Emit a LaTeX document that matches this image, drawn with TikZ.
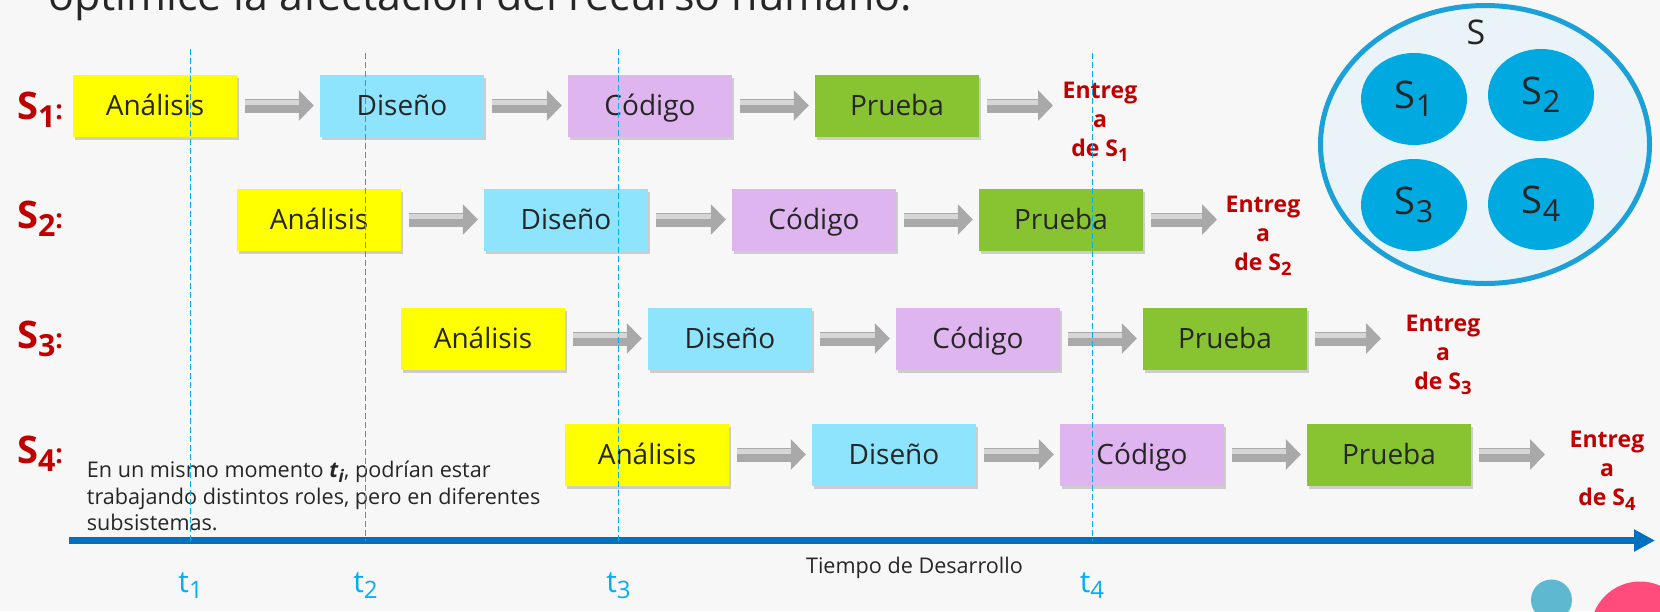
\documentclass[tikz,border=0pt]{standalone}
\usepackage{fontspec}
\setmainfont{Open Sans}
\usepackage{graphicx}
\usetikzlibrary{positioning, calc, arrows.meta, shapes.geometric, shadows}
\definecolor{Fondo}{HTML}{F7F7F7}
\definecolor{Texto}{HTML}{262626}
\definecolor{Rojo}{HTML}{C00000}
\definecolor{Amarillo}{HTML}{FFFF00}
\definecolor{Celeste}{HTML}{8EE4FC}
\definecolor{Lila}{HTML}{DFB5F0}
\definecolor{Verde}{HTML}{88C431}
\definecolor{Gris}{HTML}{A9A9A9}
\definecolor{GrisClaro}{HTML}{D6D6D6}
\definecolor{Eje}{HTML}{0070C0}
\definecolor{Guia}{HTML}{00B0F0}
\definecolor{Aro}{HTML}{1BA1D8}
\definecolor{AroFondo}{HTML}{EAF3F8}
\definecolor{Sub}{HTML}{00A9E0}
\definecolor{Bola}{HTML}{5EB8D0}
\definecolor{Rosa}{HTML}{FF4C7C}
\newcommand{\indice}[1]{\raisebox{-0.22em}{\scalebox{0.8}{#1}}}
\newcommand{\dospuntos}{\scalebox{0.7}{:}}
\tikzset{
    fase/.style={rectangle, minimum width=164pt, minimum height=62pt, inner sep=0pt, text height=27pt, text depth=8pt, text=Texto, font=\fontsize{28}{34}\selectfont, drop shadow={shadow xshift=2pt, shadow yshift=-3pt, opacity=0.35}},
    flecha/.style={-{Triangle[length=15pt, width=30pt]}, line width=14pt, draw=Gris, shorten <=8pt, shorten >=6pt,
        postaction={draw=GrisClaro, line width=5pt, -, shorten <=8pt, shorten >=21pt, transform canvas={yshift=3pt}}},
    entrega/.style={anchor=north, align=center, inner sep=0pt, text=Rojo, font=\fontsize{23}{29}\selectfont\bfseries},
    rotulo/.style={anchor=base west, inner sep=0pt, text=Rojo, font=\fontsize{38}{38}\selectfont\bfseries},
    subsistema/.style={ellipse, fill=Sub, minimum width=106pt, minimum height=92pt, text=Texto, font=\fontsize{38}{38}\selectfont},
    guia/.style={dashed, dash pattern=on 6pt off 3pt, color=Guia, line width=1pt},
    tiempo/.style={anchor=base, inner sep=0pt, text=Guia, font=\fontsize{30}{30}\selectfont},
}
\begin{document}
\begin{tikzpicture}[x=1pt, y=1pt]
    % Fondo y titulo
    \fill[Fondo] (0,0) rectangle (1660,-611);
    \useasboundingbox (0,0) rectangle (1660,-611);
    \node[anchor=base west, inner sep=0pt, text=Texto, font=\fontsize{43}{50}\selectfont] (titulo) at (48,-10) {optimice la afectación del recurso humano.};

    % Conjunto S
    \node[ellipse, draw=Aro, line width=5pt, fill=AroFondo, minimum width=329pt, minimum height=278pt] (S) at (1485,-144.5) {};
    \node[inner sep=0pt, text=Texto, font=\fontsize{34}{34}\selectfont] (nS) at (1476,-32) {S};
    \node[subsistema] (n1) at (1414,-99) {S\indice{1}};
    \node[subsistema] (n2) at (1541,-95) {S\indice{2}};
    \node[subsistema] (n3) at (1414,-205) {S\indice{3}};
    \node[subsistema] (n4) at (1541,-204) {S\indice{4}};

    % Rotulos de filas
    \node[rotulo] (l1) at (17,-119) {S\indice{1}\dospuntos};
    \node[rotulo] (l2) at (17,-228) {S\indice{2}\dospuntos};
    \node[rotulo] (l3) at (17,-348) {S\indice{3}\dospuntos};
    \node[rotulo] (l4) at (17,-463) {S\indice{4}\dospuntos};

    % Fila S1
    \node[fase, fill=Amarillo] (an1) at (155,-105.5) {Análisis};
    \node[fase, fill=Celeste] (di1) at (402,-105.5) {Diseño};
    \node[fase, fill=Lila] (co1) at (650,-105.5) {Código};
    \node[fase, fill=Verde] (pr1) at (897,-105.5) {Prueba};
    \node[entrega] (e1) at (1100,-81.5) {Entreg\\a\\de S\indice{1}};
    \coordinate (f1) at (1059,-105.5);
    \draw[flecha] (an1) -- (di1);
    \draw[flecha] (di1) -- (co1);
    \draw[flecha] (co1) -- (pr1);
    \draw[flecha] (pr1) -- (f1);

    % Fila S2
    \node[fase, fill=Amarillo] (an2) at (319,-219.5) {Análisis};
    \node[fase, fill=Celeste] (di2) at (566,-219.5) {Diseño};
    \node[fase, fill=Lila] (co2) at (814,-219.5) {Código};
    \node[fase, fill=Verde] (pr2) at (1061,-219.5) {Prueba};
    \node[entrega] (e2) at (1263,-195.5) {Entreg\\a\\de S\indice{2}};
    \coordinate (f2) at (1223,-219.5);
    \draw[flecha] (an2) -- (di2);
    \draw[flecha] (di2) -- (co2);
    \draw[flecha] (co2) -- (pr2);
    \draw[flecha] (pr2) -- (f2);

    % Fila S3
    \node[fase, fill=Amarillo] (an3) at (483,-338.5) {Análisis};
    \node[fase, fill=Celeste] (di3) at (730,-338.5) {Diseño};
    \node[fase, fill=Lila] (co3) at (978,-338.5) {Código};
    \node[fase, fill=Verde] (pr3) at (1225,-338.5) {Prueba};
    \node[entrega] (e3) at (1443,-314.5) {Entreg\\a\\de S\indice{3}};
    \coordinate (f3) at (1387,-338.5);
    \draw[flecha] (an3) -- (di3);
    \draw[flecha] (di3) -- (co3);
    \draw[flecha] (co3) -- (pr3);
    \draw[flecha] (pr3) -- (f3);

    % Fila S4
    \node[fase, fill=Amarillo] (an4) at (647,-454.5) {Análisis};
    \node[fase, fill=Celeste] (di4) at (894,-454.5) {Diseño};
    \node[fase, fill=Lila] (co4) at (1142,-454.5) {Código};
    \node[fase, fill=Verde] (pr4) at (1389,-454.5) {Prueba};
    \node[entrega] (e4) at (1607,-430.5) {Entreg\\a\\de S\indice{4}};
    \coordinate (f4) at (1551,-454.5);
    \draw[flecha] (an4) -- (di4);
    \draw[flecha] (di4) -- (co4);
    \draw[flecha] (co4) -- (pr4);
    \draw[flecha] (pr4) -- (f4);

    % Nota
    \node[anchor=north west, align=left, inner sep=0pt, text=Texto, font=\fontsize{21.6}{26.5}\selectfont] (nota) at (86.7,-461) {En un mismo momento \textbf{\textit{t}}\indice{\textbf{\textit{i}}}, podrían estar\\trabajando distintos roles, pero en diferentes\\subsistemas.};

    % Eje del tiempo
    \coordinate (ini) at (69,-540.5);
    \coordinate (fin) at (1655,-540.5);
    \draw[-{Triangle[length=21pt, width=21pt]}, line width=7pt, Eje] (ini) -- (fin);
    \node[anchor=base, inner sep=0pt, text=Texto, font=\fontsize{21.6}{21.6}\selectfont] (des) at (914.5,-573) {Tiempo de Desarrollo};

    % Instantes t1..t4
    \node[tiempo] (t1) at (190.6,-592) {t\indice{1}};
    \node[tiempo] (t2) at (365.5,-592) {t\indice{2}};
    \node[tiempo] (t3) at (618.5,-592) {t\indice{3}};
    \node[tiempo] (t4) at (1092,-592) {t\indice{4}};
    \draw[guia] (t1 |- 0,-49) -- (t1 |- ini);
    \draw[guia] (t2 |- 0,-53) -- (t2 |- ini);
    \draw[guia] (t3 |- 0,-49) -- (t3 |- ini);
    \draw[guia] (t4 |- 0,-53) -- (t4 |- ini);

    % Circulos decorativos
    \fill[Bola] (1551.5,-600) circle (20.5);
    \fill[Rosa] (1640,-631) circle (49.5);
\end{tikzpicture}
\end{document}
